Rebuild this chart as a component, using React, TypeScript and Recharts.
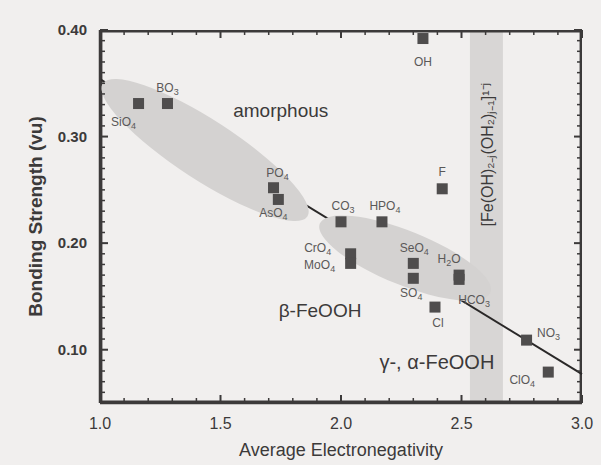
import { useEffect } from 'react';
import { ScatterChart, Scatter, XAxis, YAxis, ReferenceLine, ReferenceArea, ReferenceDot } from 'recharts';

// anions, average electronegativity, bonding strength (vu)
const anions = ['SiO4', 'BO3', 'PO4', 'AsO4', 'CO3', 'HPO4', 'CrO4', 'MoO4', 'SeO4', 'SO4', 'H2O', 'HCO3', 'Cl', 'NO3', 'ClO4', 'OH', 'F'];
const electroneg = [1.16, 1.28, 1.72, 1.74, 2.0, 2.17, 2.04, 2.04, 2.3, 2.3, 2.49, 2.49, 2.39, 2.77, 2.86, 2.34, 2.42];
const bondStrength = [0.331, 0.331, 0.252, 0.241, 0.22, 0.22, 0.19, 0.181, 0.181, 0.167, 0.17, 0.166, 0.14, 0.109, 0.079, 0.392, 0.251];

// fitted line end points
const fitX = [1.0, 3.0];
const fitY = [0.354, 0.077];

const xDomain = [1, 3];
const yDomain = [0.05, 0.4];
const xMajor = [1.0, 1.5, 2.0, 2.5, 3.0];
const yMajor = [0.1, 0.2, 0.3, 0.4];
const xMinor = [1.1, 1.2, 1.3, 1.4, 1.6, 1.7, 1.8, 1.9, 2.1, 2.2, 2.3, 2.4, 2.6, 2.7, 2.8, 2.9];
const yMinor = Array.from({ length: 36 }, (_, i) => Math.round((0.05 + i * 0.01) * 100) / 100)
    .filter(v => !yMajor.some(m => Math.abs(m - v) < 1e-6));

const points = anions.map((name, i) => ({ name, x: electroneg[i], y: bondStrength[i] }));

// where each label sits relative to its square (px)
const labelOffset: Record<string, [number, number]> = {
    SiO4: [-15, 22], BO3: [0, -12], PO4: [4, -11], AsO4: [-5, 18], CO3: [2, -12], HPO4: [3, -12],
    CrO4: [-33, -2], MoO4: [-31, 6], SeO4: [1, -11], SO4: [-2, 19], H2O: [-10, -12], HCO3: [15, 25],
    Cl: [3, 20], NO3: [22, -3], ClO4: [-26, 12], OH: [0, 27], F: [0, -13],
};

const ink = '#3c3a3a';
const font = 'Liberation Sans, Arial, sans-serif';

function Formula({ text }: { text: string }) {
    // digits become subscripts
    const parts = text.match(/\d+|[^\d]+/g) || [];
    let sub = false;
    return <>{parts.map((p, i) => {
        const digit = /\d/.test(p);
        const dy = digit && !sub ? 3 : !digit && sub ? -3 : 0;
        sub = digit;
        return <tspan key={i} dy={dy} fontSize={digit ? 9 : 12}>{p}</tspan>;
    })}</>;
}

const Marker = (props: any) => {
    const { cx, cy, payload } = props;
    const [dx, dy] = labelOffset[payload.name] || [0, -12];
    return <g>
        <rect x={cx - 5.5} y={cy - 5.5} width={11} height={11} fill="#4f4d4d" />
        <text x={cx + dx} y={cy + dy} textAnchor="middle" fill="#5a5858" fontFamily={font} fontSize={12}>
            <Formula text={payload.name} />
        </text>
    </g>;
};

const YLabel = (props: any) =>
    <text x={props.x - 13} y={props.y + 5} textAnchor="end" fill={ink} fontFamily={font} fontSize={15} fontWeight="bold">
        {Number(props.payload.value).toFixed(2)}
    </text>;

const XLabel = (props: any) =>
    <text x={props.x} y={props.y + 26} textAnchor="middle" fill={ink} fontFamily={font} fontSize={16}>
        {Number(props.payload.value).toFixed(1)}
    </text>;

const Band = (rx: number, ry: number, angle: number) => (props: any) =>
    <ellipse cx={props.cx} cy={props.cy} rx={rx} ry={ry} fill="#d4d2d1" transform={`rotate(${angle} ${props.cx} ${props.cy})`} />;

// inward tick mark drawn as a small filled bar
const TickMark = (dir: string, len: number, w: number) => (props: any) => {
    const { cx, cy } = props;
    if (dir === 'up') return <rect x={cx - w / 2} y={cy - len} width={w} height={len} fill="#3c3a3a" />;
    if (dir === 'down') return <rect x={cx - w / 2} y={cy} width={w} height={len} fill="#3c3a3a" />;
    if (dir === 'right') return <rect x={cx} y={cy - w / 2} width={len} height={w} fill="#3c3a3a" />;
    return <rect x={cx - len} y={cy - w / 2} width={len} height={w} fill="#3c3a3a" />;
};

function tickMarks() {
    const out: any[] = [];
    xMajor.concat(xMinor).forEach(v => {
        const major = xMajor.includes(v);
        out.push(<ReferenceDot key={`xb${v}`} x={v} y={yDomain[0]} r={1} ifOverflow="visible" shape={TickMark('up', major ? 8 : 5, major ? 2 : 1.5)} />);
        out.push(<ReferenceDot key={`xt${v}`} x={v} y={yDomain[1]} r={1} ifOverflow="visible" shape={TickMark('down', major ? 8 : 5, major ? 2 : 1.5)} />);
    });
    yMajor.concat(yMinor).forEach(v => {
        const major = yMajor.includes(v);
        out.push(<ReferenceDot key={`yl${v}`} x={xDomain[0]} y={v} r={1} ifOverflow="visible" shape={TickMark('right', major ? 8 : 5, major ? 2 : 1.5)} />);
        out.push(<ReferenceDot key={`yr${v}`} x={xDomain[1]} y={v} r={1} ifOverflow="visible" shape={TickMark('left', major ? 8 : 5, major ? 2 : 1.5)} />);
    });
    return out;
}

export default function App() {
    useEffect(() => { document.body.style.margin = '0'; }, []);
    return <div style={{ width: 601, height: 465, background: '#f1efee' }}>
        <ScatterChart width={601} height={465} margin={{ top: 30, right: 19, bottom: 7, left: 35 }}>
            <XAxis type="number" dataKey="x" domain={xDomain} ticks={xMajor} interval={0} height={55}
                stroke="#3c3a3a" strokeWidth={2.5} tickLine={false} tickSize={0} tickMargin={0} tick={XLabel}
                label={{ value: 'Average Electronegativity', position: 'insideBottom', offset: 2, fill: ink, fontSize: 18, fontFamily: font }} />
            <YAxis type="number" dataKey="y" domain={yDomain} ticks={yMajor} interval={0} width={65}
                stroke="#3c3a3a" strokeWidth={2.5} tickLine={false} tickSize={0} tickMargin={0} tick={YLabel}
                label={{ value: 'Bonding Strength (vu)', angle: -90, position: 'insideLeft', offset: 0, fill: ink, fontSize: 19, fontWeight: 'bold', fontFamily: font, style: { textAnchor: 'middle' } }} />

            <ReferenceArea x1={2.535} x2={2.672} y1={yDomain[0]} y2={yDomain[1]} fill="#d8d6d5" fillOpacity={1} stroke="none" />
            <ReferenceDot x={1.436} y={0.2874} r={1} shape={Band(122, 30, 33)} />
            <ReferenceDot x={2.266} y={0.186} r={1} shape={Band(92, 27, 22)} />

            {/* plot frame as four thin filled strips */}
            <ReferenceArea x1={1} x2={1.01} y1={yDomain[0]} y2={yDomain[1]} ifOverflow="visible" fill="#3c3a3a" fillOpacity={1} stroke="none" />
            <ReferenceArea x1={2.99} x2={3} y1={yDomain[0]} y2={yDomain[1]} ifOverflow="visible" fill="#3c3a3a" fillOpacity={1} stroke="none" />
            <ReferenceArea x1={1} x2={3} y1={0.05} y2={0.0523} ifOverflow="visible" fill="#3c3a3a" fillOpacity={1} stroke="none" />
            <ReferenceArea x1={1} x2={3} y1={0.3977} y2={0.4} ifOverflow="visible" fill="#3c3a3a" fillOpacity={1} stroke="none" />
            {tickMarks()}

            <ReferenceLine segment={[{ x: fitX[0], y: fitY[0] }, { x: fitX[1], y: fitY[1] }]} stroke="#2a2828" strokeWidth={2} />

            <ReferenceDot x={1.75} y={0.325} r={0} fill="none" stroke="none"
                label={{ value: 'amorphous', fill: ink, fontSize: 19, fontFamily: font }} />
            <ReferenceDot x={1.913} y={0.137} r={0} fill="none" stroke="none"
                label={{ value: 'β-FeOOH', fill: ink, fontSize: 19, fontFamily: font }} />
            <ReferenceDot x={2.398} y={0.089} r={0} fill="none" stroke="none"
                label={{ value: 'γ-, α-FeOOH', fill: ink, fontSize: 20, fontFamily: font }} />
            <ReferenceDot x={2.606} y={0.283} r={0} fill="none" stroke="none"
                label={{ value: '[Fe(OH)₂₋ⱼ(OH₂)ⱼ₋₁]¹⁻ʲ', angle: -90, fill: ink, fontSize: 16, fontFamily: font }} />

            <Scatter data={points} shape={Marker} isAnimationActive={false} />
        </ScatterChart>
    </div>;
}
